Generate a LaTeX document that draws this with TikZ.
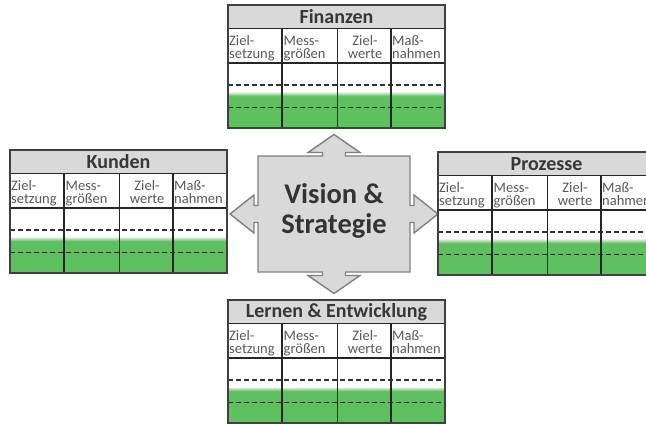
\documentclass[tikz,border=0pt]{standalone}
\usepackage{fontspec}
\setmainfont{Carlito}
\definecolor{bscgreen}{RGB}{94,192,94}
\definecolor{bscgreendark}{RGB}{20,60,20}
\definecolor{bschead}{RGB}{217,217,217}
\definecolor{bsctext}{RGB}{55,55,55}
\definecolor{bscedge}{RGB}{128,128,128}

\tikzset{
  outerline/.style={draw=black!75, line width=1.4pt},
  divider/.style={draw=black!85, line width=1.8pt},
  targetline/.style={draw=black!80, line width=1.2pt, dash pattern=on 5pt off 3pt},
  rangeline/.style={draw=bscgreendark, line width=1.3pt, dash pattern=on 5pt off 3pt},
  bsctitle/.style={inner sep=0pt, text=bsctext, font=\fontsize{20}{22}\selectfont\bfseries},
  colhead/.style={inner sep=0pt, anchor=north west, align=left, text=black!65,
    font=\fontsize{14.5}{13.5}\selectfont},
  vision/.style={inner sep=0pt, align=center, text=black!80,
    font=\fontsize{28.5}{30}\selectfont\bfseries},
  hub/.style={fill=bschead, draw=bscedge, line width=1.4pt, line join=miter},
  % one perspective table: title row, column heads, value area
  pics/bsc/.style={code={
    \fill[bschead] (0,0) rectangle (217,23.5);
    \fill[bscgreen] (0,91) rectangle (217,123);
    \shade[top color=bscgreen!35, bottom color=bscgreen] (0,88) rectangle (217,91.2);
    \draw[targetline] (0,80) -- (217,80);
    \draw[rangeline] (0,102.5) -- (217,102.5);
    \foreach \c in {54,109.5,163} \draw[divider] (\c,23.5) -- (\c,123);
    \draw[divider] (0,23.5) -- (217,23.5);
    \draw[divider] (0,58) -- (217,58);
    \draw[outerline] (0,0) rectangle (217,123);
    \node[bsctitle] (-title) at (108.5,12) {#1};
    \node[colhead] (-c1) at (1,30) {\rule{0pt}{10pt}Ziel-\\setzung};
    \node[colhead] (-c2) at (55.5,30) {\rule{0pt}{10pt}Mess-\\größen};
    \node[colhead, anchor=north, align=center] (-c3) at (137,30) {\rule{0pt}{10pt}Ziel-\\werte};
    \node[colhead] (-c4) at (164,30) {\rule{0pt}{10pt}Maß-\\nahmen};
  }}
}

\begin{document}
\begin{tikzpicture}[x=1pt, y=-1pt]
  \useasboundingbox (0,0) rectangle (646,425);
  \clip (0,0) rectangle (646,425);
  \fill[white] (0,0) rectangle (646,425);

  % central square with four arrow heads
  \begin{scope}[shift={(334,214)}]
    \path[hub]
      (-76,-58) -- (-11.5,-58) -- (-11.5,-61.5) -- (-26,-61.5) -- (0,-79.5)
      -- (26,-61.5) -- (11.5,-61.5) -- (11.5,-58) -- (76,-58)
      -- (76,-8.5) -- (80,-8.5) -- (80,-19) -- (104,0) -- (80,19) -- (80,8.5) -- (76,8.5)
      -- (76,58) -- (11.5,58) -- (11.5,61.5) -- (26,61.5) -- (0,79.5)
      -- (-26,61.5) -- (-11.5,61.5) -- (-11.5,58) -- (-76,58)
      -- (-76,8.5) -- (-80,8.5) -- (-80,19) -- (-104,0) -- (-80,-19) -- (-80,-8.5) -- (-76,-8.5)
      -- cycle;
  \end{scope}
  \node[vision] (vs) at (334,210.5) {Vision \&\\Strategie};

  % the four perspectives
  \pic (fin) at (228,5) {bsc=Finanzen};
  \pic (kun) at (10,150) {bsc=Kunden};
  \pic (pro) at (438,152) {bsc=Prozesse};
  \pic (ler) at (228,300) {bsc=Lernen \& Entwicklung};
\end{tikzpicture}
\end{document}
